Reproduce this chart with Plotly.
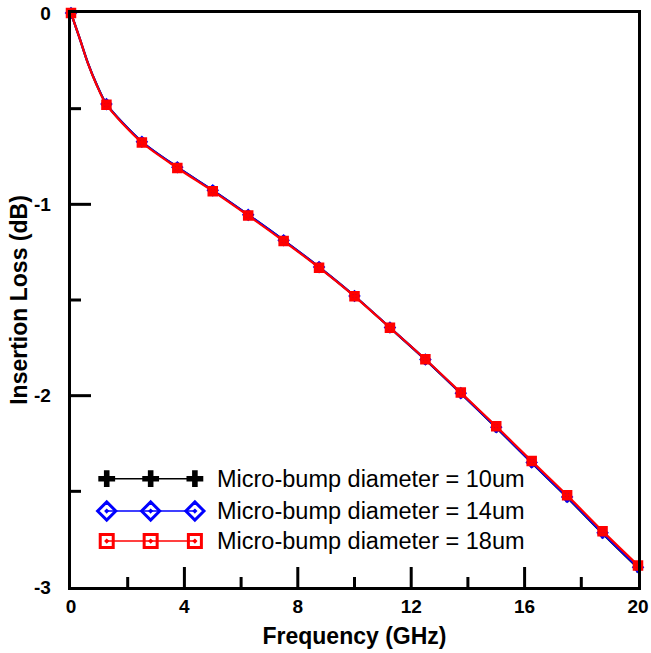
import plotly.graph_objects as go

# ---- data ----
freq = [0, 0.3, 0.6, 0.9, 1.25, 2.5, 3.75, 5, 6.25, 7.5, 8.75, 10, 11.25,
        12.5, 13.75, 15, 16.25, 17.5, 18.75, 20]
loss_10um = [0, -0.13, -0.263, -0.372, -0.476, -0.673, -0.806, -0.927, -1.055,
             -1.188, -1.328, -1.479, -1.645, -1.812, -1.988, -2.167, -2.351,
             -2.532, -2.720, -2.901]
loss_14um = [0, -0.13, -0.263, -0.372, -0.476, -0.673, -0.806, -0.927, -1.055,
             -1.188, -1.328, -1.479, -1.644, -1.811, -1.987, -2.165, -2.349,
             -2.529, -2.717, -2.897]
loss_18um = [0, -0.13, -0.265, -0.375, -0.479, -0.677, -0.810, -0.931, -1.059,
             -1.192, -1.331, -1.481, -1.645, -1.810, -1.984, -2.160, -2.342,
             -2.521, -2.708, -2.887]
marker_step = 1.25
names = ["Micro-bump diameter = 10um", "Micro-bump diameter = 14um",
         "Micro-bump diameter = 18um"]
x_ticks = [0, 4, 8, 12, 16, 20]
x_minor = [2, 6, 10, 14, 18]
y_ticks = [0, -1, -2, -3]
y_minor = [-0.5, -1.5, -2.5]

X_RANGE = [0, 20]
Y_RANGE = [-3, 0]
PLOT_W, PLOT_H = 567, 574          # plot-area size in px (651-71-13, 653-13-66)
MAJOR_LEN, MINOR_LEN = 20, 10      # inside tick lengths in px

# (values, colour, symbol, marker size, marker line width)
series = [
    (loss_10um, "#000000", "cross", 8, 0),
    (loss_14um, "#0000FF", "diamond-open-dot", 7, 2.5),
    (loss_18um, "#FF0000", "square-open-dot", 7, 3.5),
]

fig = go.Figure()
for vals, col, sym, sz, lw in series:
    fig.add_trace(go.Scatter(x=freq, y=vals, mode="lines",
                             line=dict(color=col, width=2.2, shape="spline", smoothing=0.8),
                             showlegend=False, hoverinfo="skip"))
for vals, col, sym, sz, lw in series:
    mx = [f for f in freq if abs(f / marker_step - round(f / marker_step)) < 1e-9]
    my = [v for f, v in zip(freq, vals) if f in mx]
    fig.add_trace(go.Scatter(x=mx, y=my, mode="markers", cliponaxis=False,
                             marker=dict(symbol=sym, size=sz, color=col,
                                         line=dict(color=col, width=lw)),
                             showlegend=False))

# ---- custom legend (key samples placed in axis units, bottom-left of the plot) ----
leg_x = [1.26, 2.81, 4.37]
leg_y = [-2.434, -2.603, -2.760]
leg_text_x = 5.08
leg_sizes = [14, 14, 13]
for (vals, col, sym, sz, lw), ly, nm, lsz in zip(series, leg_y, names, leg_sizes):
    fig.add_trace(go.Scatter(x=leg_x, y=[ly] * 3, mode="lines+markers", cliponaxis=False,
                             line=dict(color=col, width=1.5),
                             marker=dict(symbol=sym, size=lsz, color=col,
                                         line=dict(color=col, width=3 if sym != "cross" else 0)),
                             showlegend=False, hoverinfo="skip"))
    fig.add_annotation(x=leg_text_x, y=ly, text=nm,
                       showarrow=False, xanchor="left", yanchor="middle",
                       font=dict(family="Arial, Liberation Sans", size=23.5, color="black"))

# ---- inside tick marks, drawn through the axis scales ----
ux = (X_RANGE[1] - X_RANGE[0]) / PLOT_W    # data units per px along x
uy = (Y_RANGE[1] - Y_RANGE[0]) / PLOT_H    # data units per px along y
tx, ty = [], []
for v, ln in [(t, MAJOR_LEN) for t in x_ticks[1:-1]] + [(t, MINOR_LEN) for t in x_minor]:
    tx += [v, v, None]
    ty += [Y_RANGE[0], Y_RANGE[0] + ln * uy, None]
for v, ln in [(t, MAJOR_LEN) for t in y_ticks[1:-1]] + [(t, MINOR_LEN) for t in y_minor]:
    tx += [X_RANGE[0], X_RANGE[0] + ln * ux, None]
    ty += [v, v, None]
fig.add_trace(go.Scatter(x=tx, y=ty, mode="lines", line=dict(color="black", width=3),
                         showlegend=False, hoverinfo="skip", connectgaps=False))

axis_common = dict(showline=True, linecolor="black", linewidth=3, mirror=True,
                   ticks="", showgrid=False, zeroline=False, automargin=False,
                   tickfont=dict(family="Arial, Liberation Sans", size=19, color="black"))

fig.update_layout(
    width=651, height=653,
    margin=dict(l=71, r=13, t=13, b=66),
    plot_bgcolor="white", paper_bgcolor="white",
    font=dict(family="Arial, Liberation Sans", color="black"),
    xaxis=dict(range=X_RANGE, tickvals=x_ticks, ticktext=[f"<b>{t}</b>" for t in x_ticks],
               title=dict(text="<b>Frequency (GHz)</b>", font=dict(size=23), standoff=13),
               **axis_common),
    yaxis=dict(range=Y_RANGE, tickvals=y_ticks,
               ticktext=[f"<b>{t}</b>\u2002\u2009" for t in y_ticks],
               title=dict(text="<b>Insertion Loss (dB)</b>", font=dict(size=23), standoff=0),
               **axis_common),
)

fig.write_html("out.html")
